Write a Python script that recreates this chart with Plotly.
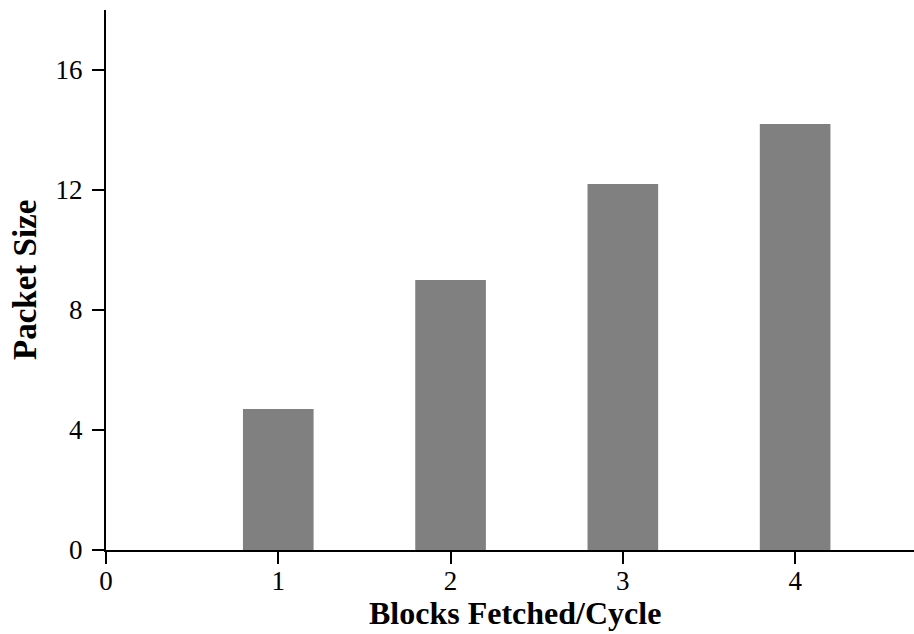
import plotly.graph_objects as go

# Packet size measured for each fetch width
blocks_fetched = [1, 2, 3, 4]
packet_size = [4.7, 9.0, 12.2, 14.2]

x_ticks = [0, 1, 2, 3, 4]
y_ticks = [0, 4, 8, 12, 16]

x_title = "Blocks Fetched/Cycle"
y_title = "Packet Size"

serif = "Liberation Serif, Times New Roman, Times, serif"

fig = go.Figure(
    go.Bar(
        x=blocks_fetched,
        y=packet_size,
        width=0.41,
        marker=dict(color="#808080", line=dict(width=0)),
    )
)

fig.update_layout(
    width=914,
    height=634,
    margin=dict(l=106, r=0, t=10, b=84),
    paper_bgcolor="white",
    plot_bgcolor="white",
    showlegend=False,
    font=dict(family=serif, size=27, color="black"),
)

axis_style = dict(
    ticks="outside",
    ticklen=12,
    tickwidth=1.5,
    tickcolor="black",
    showline=True,
    linecolor="black",
    linewidth=2,
    showgrid=False,
    zeroline=False,
    tickfont=dict(family=serif, size=27, color="black"),
)

fig.update_xaxes(
    range=[0, 4.69],
    tickvals=x_ticks,
    ticktext=[str(v) for v in x_ticks],
    ticklabelstandoff=-6,
    **axis_style,
)

fig.update_yaxes(
    range=[0, 18],
    tickvals=y_ticks,
    ticktext=[str(v) for v in y_ticks],
    ticklabelstandoff=4,
    **axis_style,
)

# Axis titles placed as annotations for exact positioning
fig.add_annotation(
    text="<b>" + x_title + "</b>",
    xref="paper", yref="paper",
    x=0.506, y=0,
    yshift=-63,
    xanchor="center", yanchor="middle",
    showarrow=False,
    font=dict(family=serif, size=32, color="black"),
)
fig.add_annotation(
    text="<b>" + y_title + "</b>",
    xref="paper", yref="paper",
    x=0, y=0.5,
    xshift=-81,
    xanchor="center", yanchor="middle",
    textangle=-90,
    showarrow=False,
    font=dict(family=serif, size=33, color="black"),
)

fig.write_html("out.html")
